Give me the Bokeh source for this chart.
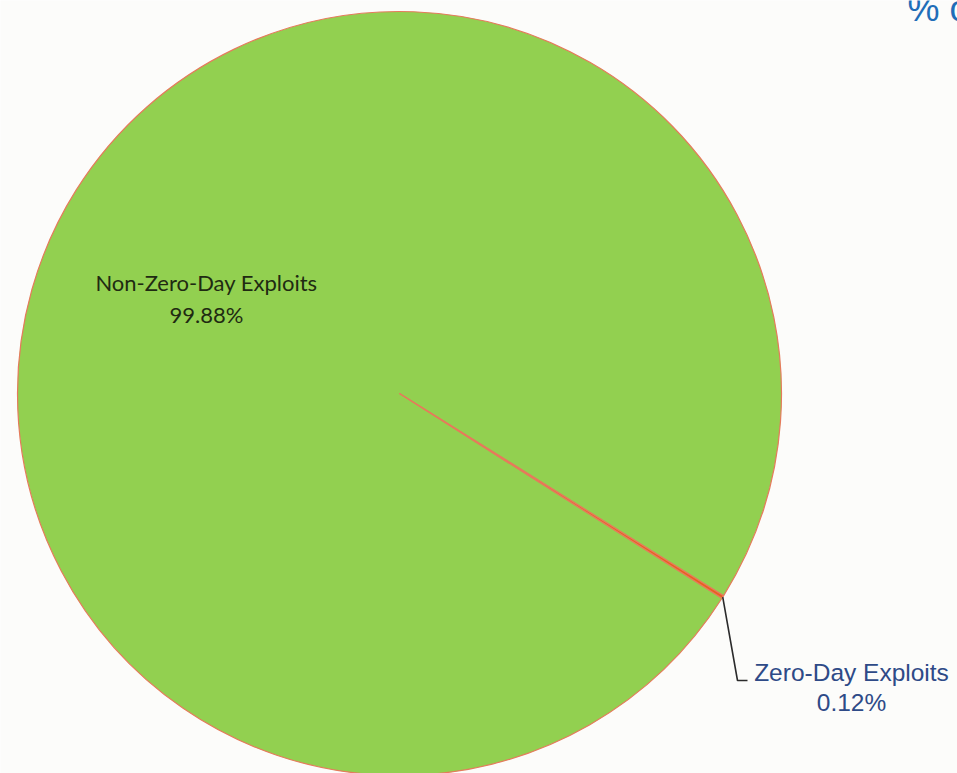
import math
from bokeh.plotting import figure
from bokeh.models import Range1d, ColumnDataSource
from bokeh.core.properties import value
from bokeh.embed import file_html
from bokeh.resources import INLINE

# ---- data ----
categories = ["Non-Zero-Day Exploits", "Zero-Day Exploits"]
shares = [99.88, 0.12]
share_labels = ["99.88%", "0.12%"]
title_text = "% of Exploits"

# ---- layout / style ----
W, H = 957, 773
cx, cy, r = 399, H - 393, 382
zero_mid_deg = -32.2          # direction of the small slice
slice_colors = ["#92D050", "#E8601E"]
edge_color = "#E57B5C"
bg = "#FCFCFA"

p = figure(width=W, height=H, x_range=Range1d(0, W), y_range=Range1d(0, H),
           output_backend="svg", toolbar_location=None, min_border=0)
p.axis.visible = False
p.grid.visible = False
p.outline_line_color = None
p.background_fill_color = bg
p.border_fill_color = bg

total = sum(shares)
spans = [2 * math.pi * s / total for s in shares]
zmid = math.radians(zero_mid_deg)
z_start = zmid - spans[1] / 2
z_end = z_start + spans[1]
starts = [z_end, z_start]
ends = [z_end + spans[0], z_end]

src = ColumnDataSource(dict(cat=categories, start=starts, end=ends, color=slice_colors))
p.wedge(x=cx, y=cy, radius=r, start_angle="start", end_angle="end",
        fill_color="color", line_color=edge_color, line_width=1.2, source=src)

# leader line for the small slice
ex = cx + r * math.cos(zmid)
ey = cy + r * math.sin(zmid)
p.line([ex, 737, 747], [ey, H - 680, H - 680], line_color="#2b2b2b", line_width=1.6)

# labels
p.text(x=[851, 851], y=[H - 672, H - 702], text=[categories[1], share_labels[1]],
       text_align="center", text_baseline="middle",
       text_font=value("Liberation Sans"), text_font_size="24.5px", text_color="#2E4A87")

p.text(x=[206, 206], y=[H - 282, H - 314], text=[categories[0], share_labels[0]],
       text_align="center", text_baseline="middle",
       text_font=value("Lato"), text_font_size="22px", text_color="#1F2A12")

# title (mostly outside the window, as in the reference)
p.text(x=[907], y=[H - 8], text=[title_text], text_align="left", text_baseline="alphabetic",
       text_font=value("Liberation Sans"), text_font_size="36px", text_color="#1F6EB8")

open("out.html", "w").write(file_html(p, INLINE))
